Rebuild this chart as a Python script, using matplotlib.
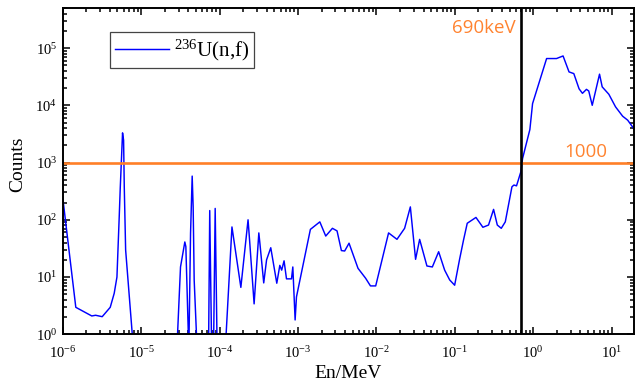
"""
236U(n,f) counts vs. neutron energy, with 690 keV and 1000-count markers.
"""
import matplotlib
matplotlib.use("Agg")
import matplotlib.pyplot as plt
from matplotlib.ticker import NullFormatter

plt.rcParams["font.family"] = ["Liberation Serif", "DejaVu Serif"]
plt.rcParams["mathtext.fontset"] = "custom"
plt.rcParams["mathtext.rm"] = "Liberation Serif"
plt.rcParams["mathtext.it"] = "Liberation Serif:italic"
plt.rcParams["axes.unicode_minus"] = False

# energy in MeV, counts (0.5 = below the axis)
energy = [
    1.0e-6, 1.47e-6, 2.35e-6, 2.63e-6, 3.19e-6, 4.04e-6, 4.54e-6, 4.92e-6,
    5.26e-6, 5.42e-6, 5.8e-6, 5.98e-6, 6.1e-6, 6.35e-6, 7.7e-6, 8.2e-6,
    2.85e-5, 3.18e-5, 3.61e-5, 3.72e-5, 4.06e-5, 4.27e-5, 4.48e-5, 4.61e-5,
    4.75e-5, 5.19e-5, 7.24e-5, 7.5e-5, 7.94e-5, 8.38e-5, 8.8e-5, 9.33e-5,
    1.18e-4, 1.44e-4, 1.87e-4, 2.31e-4, 2.4e-4, 2.76e-4, 3.17e-4, 3.27e-4,
    3.66e-4, 3.98e-4, 4.5e-4, 5.37e-4, 5.87e-4, 6.2e-4, 6.65e-4, 7.14e-4,
    8.27e-4, 8.6e-4, 9.2e-4, 9.57e-4, 1.44e-3, 1.9e-3, 2.26e-3, 2.75e-3,
    3.15e-3, 3.58e-3, 3.94e-3, 4.48e-3, 5.83e-3, 7.3e-3, 8.4e-3, 9.8e-3,
    1.43e-2, 1.83e-2, 2.29e-2, 2.71e-2, 3.16e-2, 3.56e-2, 4.41e-2, 5.17e-2,
    6.22e-2, 7.42e-2, 8.6e-2, 9.95e-2, 0.115, 0.129, 0.144, 0.186, 0.228,
    0.269, 0.312, 0.348, 0.391, 0.44, 0.535, 0.567, 0.612, 0.695, 0.731,
    0.906, 0.98, 1.48, 1.98, 2.4, 2.86, 3.29, 3.84, 4.24, 4.77, 5.1, 5.65,
    7.0, 7.57, 9.2, 11.2, 13.8, 16.0, 19.5,
]
counts = [
    250, 2.96, 2.09, 2.15, 2.03, 2.96, 5.2, 10,
    113, 355, 3300, 2460, 377, 29.7, 1.04, 0.5,
    0.5, 15, 41, 34, 0.5, 58, 580, 168,
    8.9, 0.5, 0.5, 145, 0.5, 0.5, 158, 0.5,
    0.5, 75, 6.6, 100, 50, 3.4, 59, 39,
    7.9, 20, 32.5, 7.8, 16, 13.2, 19.2, 9.3,
    9.3, 15, 1.78, 4.5, 68, 92, 52, 71,
    64, 29, 28.5, 39, 14.2, 9.5, 7.0, 7.0,
    59, 45.6, 71, 168, 20.4, 45.5, 15.6, 15,
    27.7, 13.2, 8.9, 7.2, 20.4, 44, 87, 110, 74,
    81, 152, 81, 71, 92, 377, 405, 392, 690, 1180,
    3780, 10700, 65600, 65600, 72800, 38300, 35800, 19400, 16200, 19000, 17800, 10000,
    35000, 21000, 15600, 9400, 6450, 5500, 3780,
]

x_ticks = [1e-6, 1e-5, 1e-4, 1e-3, 1e-2, 1e-1, 1e0, 1e1]
y_ticks = [1e0, 1e1, 1e2, 1e3, 1e4, 1e5]

threshold_energy = 0.69   # MeV
threshold_counts = 1000

fig = plt.figure(figsize=(6.35, 3.87), dpi=100)
ax = fig.add_axes([0.0987, 0.1362, 0.899, 0.843])

ax.plot(energy, counts, color="#0000FF", lw=1.05, label="$^{236}$U(n,f)")
ax.axhline(threshold_counts, color="#FF7F27", lw=1.9)
ax.axvline(threshold_energy, color="black", lw=1.9)

ax.set_xscale("log")
ax.set_yscale("log")
ax.set_xticks(x_ticks)
ax.set_yticks(y_ticks)
ax.set_xlim(1e-6, 19)
ax.set_ylim(1, 5e5)
ax.xaxis.set_minor_formatter(NullFormatter())
ax.yaxis.set_minor_formatter(NullFormatter())

ax.text(0.6, 1.8e5, "690keV", color="#FF8330", fontsize=13.5,
        family="Open Sans", ha="right", va="baseline")
ax.text(4.7, 1250, "1000", color="#FF8330", fontsize=13.5,
        family="Open Sans", ha="center", va="baseline")

ax.set_xlabel("En/MeV", fontsize=14, labelpad=3)
ax.set_ylabel("Counts", fontsize=14)
ax.yaxis.set_label_coords(-0.064, 0.52)

ax.tick_params(which="both", direction="in", top=True, right=True, width=1.1)
ax.tick_params(which="major", length=5, labelsize=10.5)
ax.tick_params(which="minor", length=3)
ax.tick_params(axis="x", pad=8)
ax.tick_params(axis="y", pad=4)
for s in ax.spines.values():
    s.set_linewidth(1.4)

leg = ax.legend(loc="upper left", bbox_to_anchor=(0.083, 0.926),
                borderaxespad=0, fontsize=15, fancybox=False,
                edgecolor="#444444", framealpha=1, handlelength=2.6,
                handletextpad=0.2, borderpad=0.25)
leg.get_frame().set_linewidth(0.9)

fig.savefig("out.png", dpi=100)
